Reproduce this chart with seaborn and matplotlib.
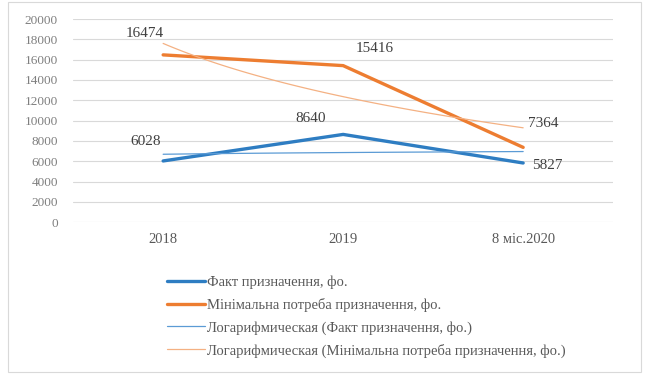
import numpy as np
import pandas as pd
import matplotlib
matplotlib.use("Agg")
import matplotlib.pyplot as plt
from matplotlib.patches import Rectangle
import seaborn as sns

# Data
categories = ["2018", "2019", "8 міс.2020"]
fact = [6028, 8640, 5827]
need = [16474, 15416, 7364]
series_names = [
    "Факт призначення, фо.",
    "Мінімальна потреба призначення, фо.",
    "Логарифмическая (Факт призначення, фо.)",
    "Логарифмическая (Мінімальна потреба призначення, фо.)",
]
yticks = list(range(0, 20001, 2000))

sns.set_style("white")
plt.rcParams["font.family"] = ["Liberation Serif", "DejaVu Serif"]

blue = "#2E7DC2"
orange = "#ED7D31"
blue_trend = "#5B9BD5"
orange_trend = "#F4B183"

fig = plt.figure(figsize=(6.53, 3.74), dpi=100)
ax = fig.add_axes([0.112, 0.406, 0.827, 0.543])

pos = np.arange(len(categories))
df = pd.DataFrame({"x": pos, "fact": fact, "need": need})


def log_trend(values):
    # Logarithmic trend y = a*ln(n) + b over category numbers n = 1..N
    n = np.arange(1, len(values) + 1)
    a, b = np.polyfit(np.log(n), values, 1)
    grid = np.linspace(1, len(values), 100)
    return pd.DataFrame({"x": grid - 1, "y": a * np.log(grid) + b})


tf = log_trend(fact)
tn = log_trend(need)

sns.lineplot(data=df, x="x", y="fact", ax=ax, color=blue, lw=2.4,
             label=series_names[0])
sns.lineplot(data=df, x="x", y="need", ax=ax, color=orange, lw=2.4,
             label=series_names[1])
sns.lineplot(data=tf, x="x", y="y", ax=ax, color=blue_trend, lw=0.9,
             label=series_names[2])
sns.lineplot(data=tn, x="x", y="y", ax=ax, color=orange_trend, lw=0.9,
             label=series_names[3])

ax.set_xlim(-0.5, len(categories) - 0.5)
ax.set_ylim(0, 20000)
ax.set_yticks(yticks)
ax.set_yticklabels([str(t) for t in yticks])
ax.set_xticks(pos)
ax.set_xticklabels(categories)
ax.set_xlabel("")
ax.set_ylabel("")
ax.grid(axis="y", color="#D9D9D9", lw=0.8)
ax.set_axisbelow(True)
for s in ax.spines.values():
    s.set_visible(False)
ax.tick_params(axis="y", labelsize=9.5, labelcolor="#7F7F7F", length=0, pad=11)
ax.tick_params(axis="x", labelsize=10.5, labelcolor="#595959", length=0, pad=8)

# Value labels
fact_off = [(-18, 19), (-33, 16), (24, -3)]
need_off = [(-18, 21), (32, 17), (20, 24)]
for i, (v, o) in enumerate(zip(fact, fact_off)):
    ax.annotate(str(v), (pos[i], v), xytext=o, textcoords="offset pixels",
                ha="center", va="center", fontsize=11, color="#404040")
for i, (v, o) in enumerate(zip(need, need_off)):
    ax.annotate(str(v), (pos[i], v), xytext=o, textcoords="offset pixels",
                ha="center", va="center", fontsize=11, color="#404040")

ax.get_legend().remove()
handles, labels = ax.get_legend_handles_labels()
fig.legend(handles, labels, loc="upper left",
           bbox_to_anchor=(160 / 653, 1 - 268 / 374), frameon=False,
           fontsize=10.5, handlelength=2.6, handletextpad=0.15,
           labelspacing=0.62, borderpad=0, labelcolor="#595959")

fig.patches.append(Rectangle((0.012, 0.006), 0.97, 0.988,
                             transform=fig.transFigure, fill=False,
                             edgecolor="#D9D9D9", lw=0.8))

fig.savefig("out.png", dpi=100)
